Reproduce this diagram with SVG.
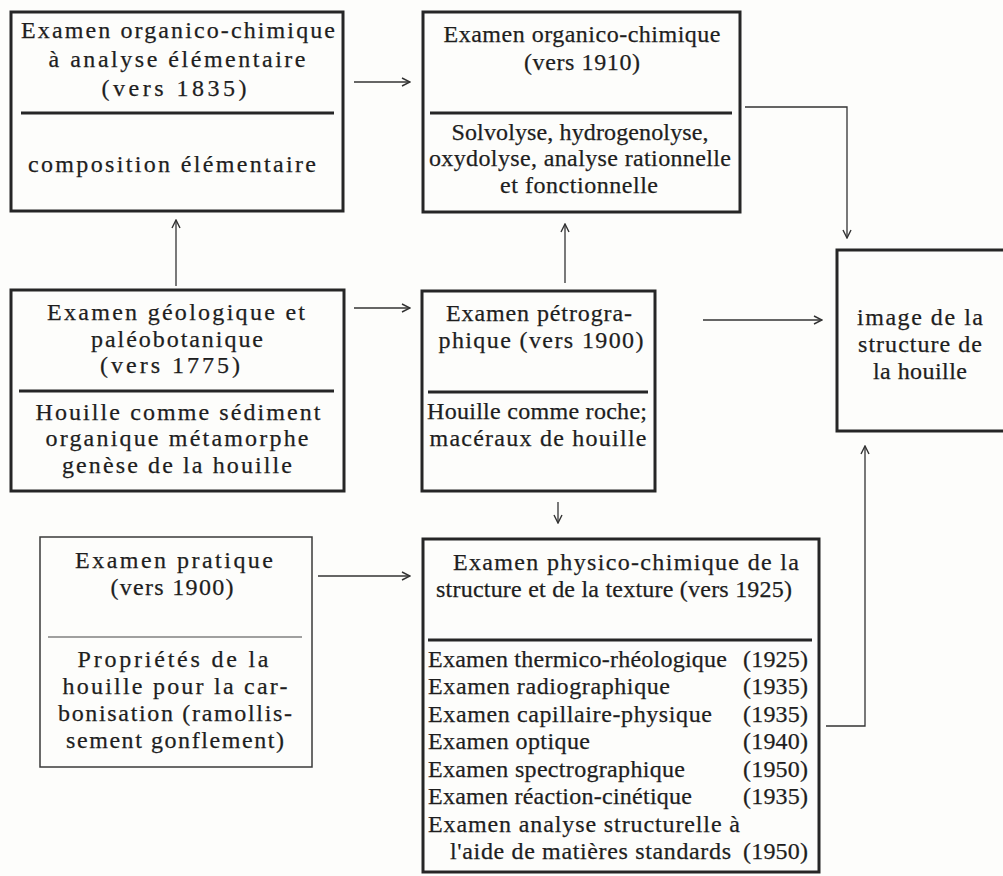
<svg xmlns="http://www.w3.org/2000/svg" width="1003" height="876" viewBox="0 0 1003 876">
<style>
  text { font-family: "Liberation Serif", "Times New Roman", serif; font-size: 24px; fill: #1e1e1e; stroke: #1e1e1e; stroke-width: 0.25; }
  .c { text-anchor: middle; }
  .e { text-anchor: end; }
  .box { fill: none; stroke: #262626; stroke-width: 3; }
  .thin { fill: none; stroke: #3a3a3a; stroke-width: 1.5; }
  .div { stroke: #262626; stroke-width: 3; }
  .divthin { stroke: #444; stroke-width: 1.2; }
  .conn path { fill: none; stroke: #333; stroke-width: 1.3; marker-end: url(#ah); }
</style>
<defs>
  <marker id="ah" viewBox="0 0 10 10" refX="9" refY="5" markerWidth="10" markerHeight="10" markerUnits="userSpaceOnUse" orient="auto">
    <path d="M1,1 L9,5 L1,9" fill="none" stroke="#333" stroke-width="1.4"/>
  </marker>
</defs>
<rect width="1003" height="876" fill="#fdfdfb"/>

<g id="n-organico-1835">
  <rect class="box" x="11" y="12" width="332" height="199"/>
  <line class="div" x1="21" y1="113" x2="334" y2="113"/>
  <text class="c" x="178" y="38" textLength="314">Examen organico-chimique</text>
  <text class="c" x="177" y="67" textLength="257">à analyse élémentaire</text>
  <text class="c" x="174" y="96" textLength="145">(vers 1835)</text>
  <text class="c" x="172" y="172" textLength="288">composition élémentaire</text>
</g>

<g id="n-organico-1910">
  <rect class="box" x="423" y="12" width="317" height="200"/>
  <line class="div" x1="430" y1="113" x2="732" y2="113"/>
  <text class="c" x="582" y="42" textLength="277">Examen organico-chimique</text>
  <text class="c" x="582" y="70" textLength="116">(vers 1910)</text>
  <text class="c" x="580" y="140" textLength="257">Solvolyse, hydrogenolyse,</text>
  <text class="c" x="580" y="166" textLength="302">oxydolyse, analyse rationnelle</text>
  <text class="c" x="579" y="193" textLength="158">et fonctionnelle</text>
</g>

<g id="n-geologique">
  <rect class="box" x="11" y="290" width="333" height="201"/>
  <line class="div" x1="19" y1="391" x2="334" y2="391"/>
  <text class="c" x="176" y="320" textLength="258">Examen géologique et</text>
  <text class="c" x="177" y="347" textLength="172">paléobotanique</text>
  <text class="c" x="170" y="373" textLength="140">(vers 1775)</text>
  <text class="c" x="178" y="420" textLength="285">Houille comme sédiment</text>
  <text class="c" x="177" y="446" textLength="263">organique métamorphe</text>
  <text class="c" x="177" y="473" textLength="230">genèse de la houille</text>
</g>

<g id="n-petrographique">
  <rect class="box" x="422" y="291" width="233" height="200"/>
  <line class="div" x1="428" y1="392" x2="648" y2="392"/>
  <text class="c" x="539" y="321" textLength="186">Examen pétrogra-</text>
  <text class="c" x="541" y="348" textLength="205">phique (vers 1900)</text>
  <text class="c" x="537" y="419" textLength="220">Houille comme roche;</text>
  <text class="c" x="538" y="446" textLength="217">macéraux de houille</text>
</g>

<g id="n-image">
  <rect class="box" x="837" y="250" width="175" height="181"/>
  <text class="c" x="920" y="325" textLength="126">image de la</text>
  <text class="c" x="920" y="352" textLength="124">structure de</text>
  <text class="c" x="920" y="379" textLength="94">la houille</text>
</g>

<g id="n-pratique">
  <rect class="thin" x="40" y="537" width="272" height="230"/>
  <line class="divthin" x1="48" y1="637" x2="302" y2="637"/>
  <text class="c" x="174" y="568" textLength="198">Examen pratique</text>
  <text class="c" x="172" y="595" textLength="123">(vers 1900)</text>
  <text class="c" x="173" y="667" textLength="191">Propriétés de la</text>
  <text class="c" x="175" y="694" textLength="225">houille pour la car-</text>
  <text class="c" x="175" y="721" textLength="234">bonisation (ramollis-</text>
  <text class="c" x="175" y="748" textLength="218">sement gonflement)</text>
</g>

<g id="n-physico">
  <rect class="box" x="423" y="539" width="396" height="333"/>
  <line class="div" x1="428" y1="640" x2="812" y2="640"/>
  <text class="c" x="626" y="570" textLength="346">Examen physico-chimique de la</text>
  <text class="c" x="614" y="597" textLength="356">structure et de la texture (vers 1925)</text>
  <text x="428" y="667" textLength="299">Examen thermico-rhéologique</text><text class="e" x="808" y="667" textLength="65">(1925)</text>
  <text x="428" y="694" textLength="242">Examen radiographique</text><text class="e" x="808" y="694" textLength="65">(1935)</text>
  <text x="428" y="722" textLength="284">Examen capillaire-physique</text><text class="e" x="808" y="722" textLength="65">(1935)</text>
  <text x="428" y="749" textLength="162">Examen optique</text><text class="e" x="808" y="749" textLength="65">(1940)</text>
  <text x="428" y="777" textLength="257">Examen spectrographique</text><text class="e" x="808" y="777" textLength="65">(1950)</text>
  <text x="428" y="804" textLength="264">Examen réaction-cinétique</text><text class="e" x="808" y="804" textLength="65">(1935)</text>
  <text x="428" y="832" textLength="312">Examen analyse structurelle à</text>
  <text x="450" y="859" textLength="281">l'aide de matières standards</text><text class="e" x="808" y="859" textLength="65">(1950)</text>
</g>

<g id="connectors" class="conn">
  <path d="M354,82 H410"/>
  <path d="M354,308 H410"/>
  <path d="M176,286 V220"/>
  <path d="M565,283 V224"/>
  <path d="M745,107 H847 V238"/>
  <path d="M703,320 H822"/>
  <path d="M558,502 V523"/>
  <path d="M318,576 H410"/>
  <path d="M826,726 H865 V446"/>
</g>
</svg>
